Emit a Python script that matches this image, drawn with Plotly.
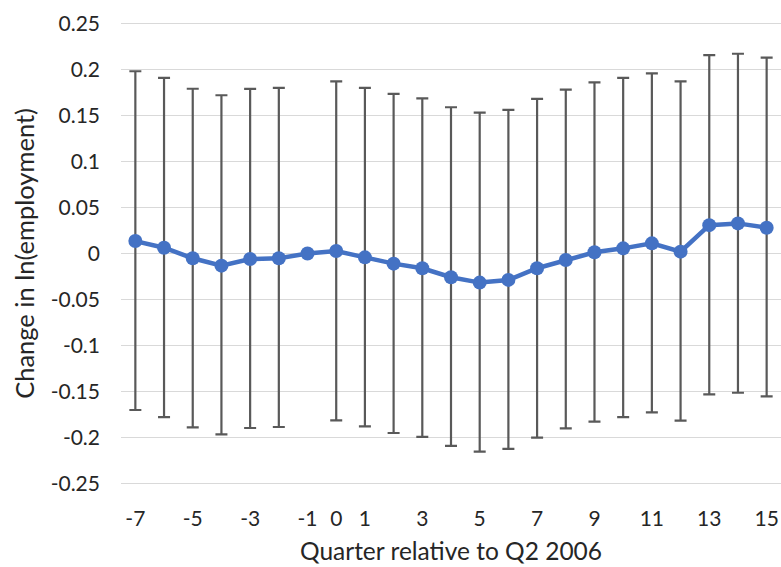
import plotly.graph_objects as go

quarters = list(range(-7, 16))
coef = [0.0135, 0.0063, -0.0052, -0.0132, -0.006, -0.0052, 0.0, 0.0027, -0.0042, -0.011, -0.016,
        -0.0258, -0.0316, -0.0287, -0.016, -0.007, 0.0013, 0.0056, 0.011, 0.002, 0.0308, 0.0327, 0.028]
upper = [0.198, 0.1907, 0.179, 0.1719, 0.1788, 0.1799, None, 0.187, 0.180, 0.1734, 0.1686,
         0.1589, 0.1531, 0.156, 0.168, 0.178, 0.186, 0.1907, 0.1957, 0.187, 0.2156, 0.217, 0.2127]
lower = [-0.170, -0.1777, -0.1889, -0.1964, -0.1896, -0.1885, None, -0.1813, -0.1878, -0.195, -0.1993,
         -0.209, -0.2152, -0.2123, -0.200, -0.190, -0.1827, -0.1777, -0.1726, -0.1816, -0.1531, -0.1513, -0.1553]
x_tick_vals = [-7, -5, -3, -1, 0, 1, 3, 5, 7, 9, 11, 13, 15]
y_tick_vals = [0.25, 0.2, 0.15, 0.1, 0.05, 0, -0.05, -0.1, -0.15, -0.2, -0.25]
y_tick_text = ["0.25", "0.2", "0.15", "0.1", "0.05", "0", "-0.05", "-0.1", "-0.15", "-0.2", "-0.25"]

err_plus = [(u - c) if u is not None else 0 for u, c in zip(upper, coef)]
err_minus = [(c - l) if l is not None else 0 for l, c in zip(lower, coef)]
has_err = [u is not None for u in upper]

font = "Lato, Calibri, Carlito, sans-serif"

fig = go.Figure()
# error bars (only where defined)
fig.add_trace(go.Scatter(
    x=[q for q, h in zip(quarters, has_err) if h],
    y=[c for c, h in zip(coef, has_err) if h],
    mode="markers",
    marker=dict(size=1, color="rgba(0,0,0,0)"),
    error_y=dict(type="data", symmetric=False,
                 array=[e for e, h in zip(err_plus, has_err) if h],
                 arrayminus=[e for e, h in zip(err_minus, has_err) if h],
                 color="#595959", thickness=2.2, width=6),
    hoverinfo="skip", showlegend=False,
))
fig.add_trace(go.Scatter(
    x=quarters, y=coef, mode="lines+markers",
    line=dict(color="#4472C4", width=4.5),
    marker=dict(color="#4472C4", size=14),
    showlegend=False,
))

fig.update_layout(
    width=781, height=567,
    margin=dict(l=121, r=0, t=22, b=82),
    paper_bgcolor="white", plot_bgcolor="white",
    font=dict(family=font, size=21, color="#262626"),
)
fig.update_xaxes(
    range=[-7.5, 15.5], tickvals=x_tick_vals, ticktext=[str(v) for v in x_tick_vals],
    showgrid=False, zeroline=False, showline=False, automargin=False,
    ticks="", ticklabelstandoff=19,
    title=dict(text="Quarter relative to Q2 2006", font=dict(size=24.5, color="#262626"), standoff=13),
)
fig.update_yaxes(
    range=[-0.2515, 0.2515], tickvals=y_tick_vals, ticktext=y_tick_text,
    showgrid=True, gridcolor="#d9d9d9", gridwidth=1.2, zeroline=False, showline=False, automargin=False,
    ticks="", ticklabelstandoff=20,
    title=dict(text="Change in ln(employment)", font=dict(size=25.5, color="#262626"), standoff=8),
)

fig.write_html("out.html", config={"displayModeBar": False},
               post_script="document.body.style.margin='0px';document.body.style.overflow='hidden';")
